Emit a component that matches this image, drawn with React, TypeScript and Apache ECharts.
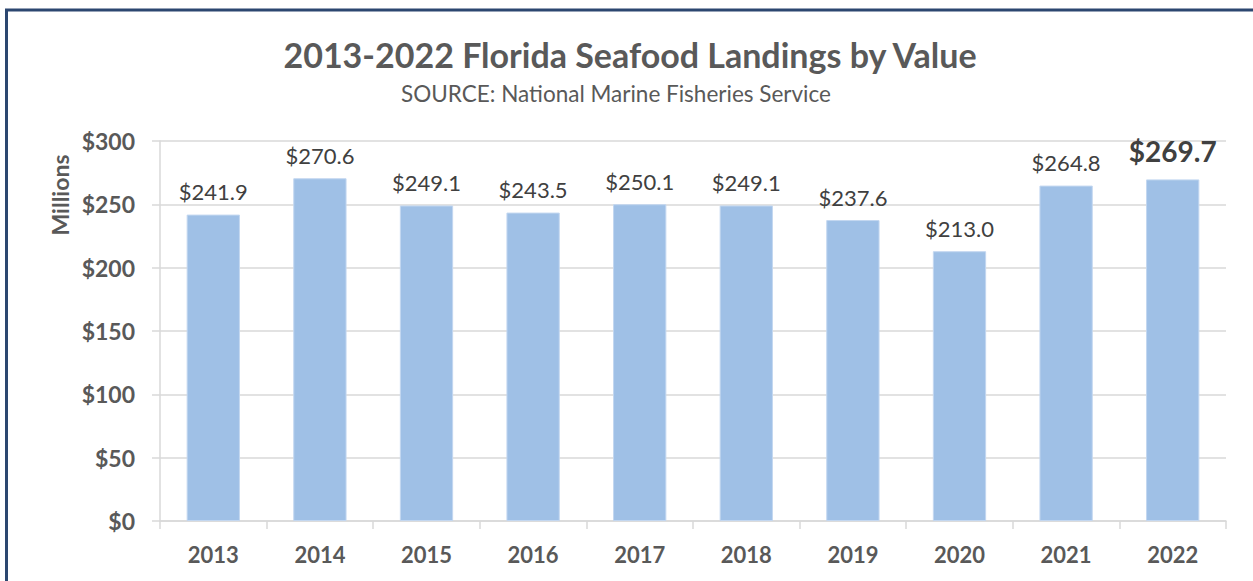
import React, { useEffect, useRef } from "react";
import * as echarts from "echarts";

const years = ["2013", "2014", "2015", "2016", "2017", "2018", "2019", "2020", "2021", "2022"];
const values = [241.9, 270.6, 249.1, 243.5, 250.1, 249.1, 237.6, 213.0, 264.8, 269.7];
const yTicks = [0, 50, 100, 150, 200, 250, 300];

const FONT = "Lato, 'Open Sans', sans-serif";

export default function App() {
  const ref = useRef<HTMLDivElement>(null);
  useEffect(() => {
    if (!ref.current) return;
    const chart = echarts.init(ref.current, null, { renderer: "svg" });
    const last = values.length - 1;
    chart.setOption({
      animation: false,
      backgroundColor: "#ffffff",
      graphic: [
        {
          type: "rect",
          shape: { x: 6.5, y: 10, width: 1260, height: 600 },
          style: { fill: "none", stroke: "#2c4770", lineWidth: 3 },
          silent: true,
        },
        {
          type: "text",
          x: 630,
          y: 54,
          style: {
            text: "2013-2022 Florida Seafood Landings by Value",
            fontFamily: FONT,
            fontSize: 34,
            fontWeight: "bold",
            fill: "#595959",
            align: "center",
            verticalAlign: "middle",
          },
        },
        {
          type: "text",
          x: 616,
          y: 93,
          style: {
            text: "SOURCE: National Marine Fisheries Service",
            fontFamily: FONT,
            fontSize: 22.5,
            fill: "#595959",
            align: "center",
            verticalAlign: "middle",
          },
        },
        {
          type: "text",
          x: 60,
          y: 195,
          rotation: Math.PI / 2,
          style: {
            text: "Millions",
            fontFamily: FONT,
            fontSize: 23,
            fontWeight: "bold",
            fill: "#595959",
            align: "center",
            verticalAlign: "middle",
          },
        },
      ],
      grid: { left: 160, right: 27, top: 141, bottom: 60, containLabel: false },
      xAxis: {
        type: "category",
        data: years,
        axisLine: { show: true, lineStyle: { color: "#d9d9d9", width: 1.5 } },
        axisTick: { show: true, length: 8, lineStyle: { color: "#d9d9d9", width: 1.5 } },
        axisLabel: {
          margin: 22,
          fontFamily: FONT,
          fontSize: 22,
          fontWeight: "bold",
          color: "#595959",
        },
      },
      yAxis: {
        type: "value",
        min: 0,
        max: 300,
        interval: 50,
        axisLine: { show: true, lineStyle: { color: "#d9d9d9", width: 1.5 } },
        axisTick: { show: true, length: 8, lineStyle: { color: "#d9d9d9", width: 1.5 } },
        splitLine: { show: true, lineStyle: { color: "#d9d9d9", width: 1.5 } },
        axisLabel: {
          margin: 25,
          fontFamily: FONT,
          fontSize: 23,
          fontWeight: "bold",
          color: "#595959",
          formatter: (v: number) => (yTicks.includes(v) ? "$" + v : ""),
        },
      },
      series: [
        {
          type: "bar",
          barWidth: "50%",
          data: values.map((v, i) =>
            i === last
              ? {
                  value: v,
                  label: { fontSize: 28, fontWeight: "bold", color: "#404040", distance: 14 },
                }
              : v
          ),
          itemStyle: { color: "#9fc0e6", borderColor: "#c3d7f0", borderWidth: 1 },
          label: {
            show: true,
            position: "top",
            distance: 12,
            fontFamily: FONT,
            fontSize: 22,
            color: "#404040",
            formatter: (p: any) => "$" + Number(p.value).toFixed(1),
          },
        },
      ],
    });
    return () => chart.dispose();
  }, []);
  return (
    <div
      ref={ref}
      style={{ position: "absolute", left: 0, top: 0, width: 1253, height: 581 }}
    />
  );
}
